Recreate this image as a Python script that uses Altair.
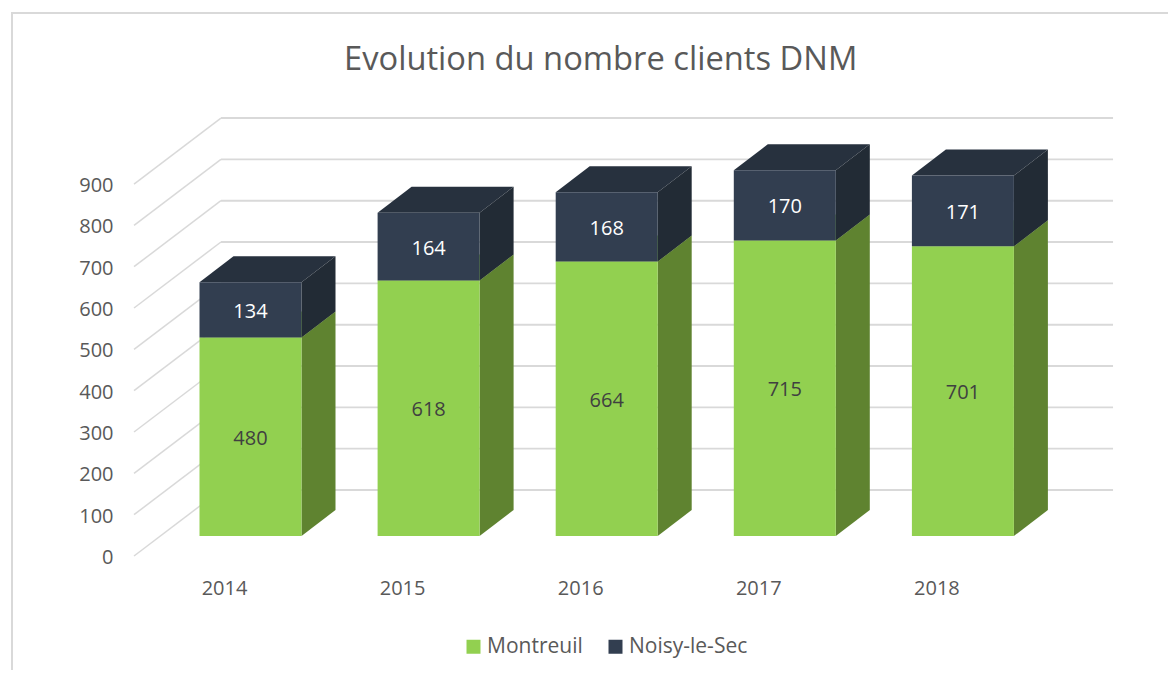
import altair as alt
import pandas as pd

years = [2014, 2015, 2016, 2017, 2018]
montreuil = [480, 618, 664, 715, 701]
noisy = [134, 164, 168, 170, 171]
grid_values = [0, 100, 200, 300, 400, 500, 600, 700, 800, 900]
series = ["Montreuil", "Noisy-le-Sec"]
front_colors = ["#92d050", "#323e50"]
side_colors = ["#5f8330", "#222b35"]
top_colors = ["#92d050", "#27313e"]
label_colors = ["#404040", "#ffffff"]
title_text = "Evolution du nombre clients DNM"

FONT = "Open Sans"
GREY = "#595959"
W, H = 1160, 662
PX_YEAR = 178.1
PX_VAL = 0.4133
X0, Y0 = 250.5, 536.0
HALF = 51 / PX_YEAR
DX = 34 / PX_YEAR
DV = 26 / PX_VAL
FRONT_X, BACK_X, END_X = 2013.346, 2013.834, 2018.843
FRONT_V, BACK_V = -48.4, 111.3

x_scale = alt.Scale(domain=[2014 + (8 - X0) / PX_YEAR, 2014 + (8 + W - X0) / PX_YEAR], nice=False, zero=False)
y_scale = alt.Scale(domain=[(Y0 - 8 - H) / PX_VAL, (Y0 - 8) / PX_VAL], nice=False, zero=False)
X = lambda f="x": alt.X(f"{f}:Q", scale=x_scale, axis=None)
Y = lambda f="y": alt.Y(f"{f}:Q", scale=y_scale, axis=None)

front, side, top, labels = [], [], [], []
for i, yr in enumerate(years):
    base = 0
    for s, val in enumerate((montreuil[i], noisy[i])):
        end = base + val
        l, r = yr - HALF, yr + HALF
        key = f"{yr}-{s}"
        front.append(dict(x=l, x2=r, y=base, y2=end, series=series[s]))
        side.append(dict(k=key, s=s, x=r, y=base, y2=end))
        side.append(dict(k=key, s=s, x=r + DX, y=base + DV, y2=end + DV))
        top.append(dict(k=key, s=s, y=end, x=l, x2=r))
        top.append(dict(k=key, s=s, y=end + DV, x=l + DX, x2=r + DX))
        labels.append(dict(x=yr, y=(base + end) / 2, t=str(val), s=s))
        base = end

grid_h, grid_d = [], []
for v in grid_values:
    grid_d.append(dict(k=v, x=FRONT_X, y=v + FRONT_V))
    grid_d.append(dict(k=v, x=BACK_X, y=v + BACK_V))
    grid_h.append(dict(x=BACK_X, x2=END_X, y=v + BACK_V))

grid_diag = alt.Chart(pd.DataFrame(grid_d)).mark_line(color="#d9d9d9", strokeWidth=1.5).encode(x=X(), y=Y(), detail="k:N")
grid_back = alt.Chart(pd.DataFrame(grid_h)).mark_rule(color="#d9d9d9", strokeWidth=1.9).encode(x=X(), x2="x2:Q", y=Y())

side_df = pd.DataFrame(side)
top_df = pd.DataFrame(top)
faces = []
for s in (0, 1):
    faces.append(
        alt.Chart(top_df[top_df.s == s]).mark_area(color=top_colors[s], orient="horizontal", opacity=1)
        .encode(y=Y(), x=X(), x2="x2:Q", detail="k:N")
    )
for s in (0, 1):
    faces.append(
        alt.Chart(side_df[side_df.s == s]).mark_area(color=side_colors[s], orient="vertical", opacity=1)
        .encode(x=X(), y=Y(), y2="y2:Q", detail="k:N")
    )

front_bars = alt.Chart(pd.DataFrame(front)).mark_rect().encode(
    x=X(), x2="x2:Q", y=Y(), y2="y2:Q",
    color=alt.Color(
        "series:N",
        scale=alt.Scale(domain=series, range=front_colors),
        legend=alt.Legend(
            title=None, orient="none", direction="horizontal", legendX=455, legendY=628,
            symbolType="square", symbolSize=196, symbolStrokeWidth=0, symbolOpacity=1,
            labelFont=FONT, labelFontSize=21, labelColor=GREY, columnPadding=22, labelOffset=3,
        ),
    ),
)

lab_df = pd.DataFrame(labels)
data_labels = alt.Chart(lab_df).mark_text(font=FONT, fontSize=20, align="center", baseline="middle", dy=2).encode(
    x=X(), y=Y(), text="t:N",
    color=alt.Color("s:N", scale=alt.Scale(domain=[0, 1], range=label_colors), legend=None),
)

y_labels = alt.Chart(pd.DataFrame({"y": [v + FRONT_V for v in grid_values], "t": [str(v) for v in grid_values], "x": [FRONT_X - 20.5 / PX_YEAR] * len(grid_values)})).mark_text(
    font=FONT, fontSize=20, color=GREY, align="right", baseline="middle", dy=2).encode(x=X(), y=Y(), text="t:N")

x_labels = alt.Chart(pd.DataFrame({"x": [y - HALF + 25 / PX_YEAR for y in years], "y": [-128.0] * len(years), "t": [str(y) for y in years]})).mark_text(
    font=FONT, fontSize=20, color=GREY, align="center", baseline="middle").encode(x=X(), y=Y(), text="t:N")

border_left = alt.Chart(pd.DataFrame({"a": [0]})).mark_rule(color="#d9d9d9", strokeWidth=2).encode(
    x=alt.value(4), y=alt.value(4), y2=alt.value(H))
border_top = alt.Chart(pd.DataFrame({"a": [0]})).mark_rule(color="#d9d9d9", strokeWidth=2).encode(
    y=alt.value(5), x=alt.value(3), x2=alt.value(W))

chart = alt.layer(
    border_left, border_top, grid_diag, grid_back,
    *faces, front_bars, data_labels, y_labels, x_labels,
).resolve_scale(color="independent").properties(
    width=W, height=H, padding=0,
    autosize=alt.AutoSizeParams(type="none"),
    background="white",
    title=alt.TitleParams(title_text, font=FONT, fontSize=32.7, fontWeight="normal", color=GREY,
                          anchor="start", frame="group", dx=336, dy=95, offset=0, baseline="alphabetic"),
).configure_view(stroke=None)

chart.save("out.html", embed_options={"renderer": "svg", "actions": False})
